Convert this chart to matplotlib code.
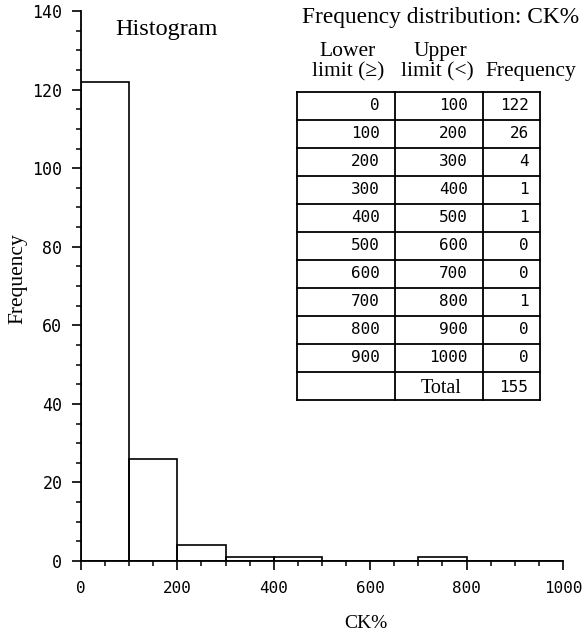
import matplotlib
matplotlib.use("Agg")
import matplotlib.pyplot as plt
import numpy as np

# class limits and counts for CK%
lower = [0, 100, 200, 300, 400, 500, 600, 700, 800, 900]
upper = [100, 200, 300, 400, 500, 600, 700, 800, 900, 1000]
freq = [122, 26, 4, 1, 1, 0, 0, 1, 0, 0]
total = sum(freq)

W, H = 582, 636
serif = "Liberation Serif"
mono = "DejaVu Sans Mono"

def fx(px):
    return px / W

def fy(py):
    return 1 - py / H

fig = plt.figure(figsize=(W / 100, H / 100), dpi=100)
ax = fig.add_axes([fx(81), fy(561), fx(563) - fx(81), fy(11) - fy(561)])

# histogram bars (outline only)
ax.bar(lower, freq, width=100, align="edge", fill=False, edgecolor="black", linewidth=1.2)

ax.set_xlim(0, 1000)
ax.set_ylim(0, 140)
for s in ["top", "right"]:
    ax.spines[s].set_visible(False)
for s in ["left", "bottom"]:
    ax.spines[s].set_linewidth(1.3)

ax.set_xticks(np.arange(0, 1001, 200))
ax.set_xticks(np.arange(0, 1001, 50), minor=True)
ax.set_yticks(np.arange(0, 141, 20))
ax.set_yticks(np.arange(0, 141, 5), minor=True)
ax.tick_params(which="major", length=6.5, width=1.2, direction="out", labelsize=12)
ax.tick_params(which="minor", length=3.8, width=1.1, direction="out")
ax.tick_params(axis="y", which="major", pad=7)
ax.tick_params(axis="x", which="major", pad=8, labelsize=11.5)
for lab in ax.get_xticklabels() + ax.get_yticklabels():
    lab.set_fontfamily(mono)

fig.text(fx(18), fy(279), "Frequency", rotation=90, ha="center", va="center",
         fontfamily=serif, fontsize=15.5)
fig.text(fx(366), fy(624), "CK%", ha="center", va="center", fontfamily=serif, fontsize=14)
fig.text(fx(115), fy(35), "Histogram", ha="left", va="baseline", fontfamily=serif, fontsize=17.5)

# frequency table with its headings
fig.text(fx(302), fy(23), "Frequency distribution: CK%", ha="left", va="baseline",
         fontfamily=serif, fontsize=16.8)
fig.text(fx(348), fy(56), "Lower", ha="center", va="baseline", fontfamily=serif, fontsize=15.5)
fig.text(fx(348), fy(76), "limit (\u2265)", ha="center", va="baseline", fontfamily=serif, fontsize=15.5)
fig.text(fx(440), fy(56), "Upper", ha="center", va="baseline", fontfamily=serif, fontsize=15.5)
fig.text(fx(437), fy(76), "limit (<)", ha="center", va="baseline", fontfamily=serif, fontsize=15.5)
fig.text(fx(485), fy(76), "Frequency", ha="left", va="baseline", fontfamily=serif, fontsize=15.5)

tw, th = 243, 308
tax = fig.add_axes([fx(297), fy(92 + th), fx(297 + tw) - fx(297), fy(92) - fy(92 + th)])
tax.set_xlim(0, tw)
tax.set_ylim(th, 0)
tax.axis("off")

col_edges = [0, 98, 186, 243]
nrows = len(freq) + 1
rh = th / nrows
for i in range(nrows + 1):
    tax.plot([0, tw], [i * rh, i * rh], color="black", lw=1.3, clip_on=False)
for x in col_edges:
    tax.plot([x, x], [0, th], color="black", lw=1.3, clip_on=False)

for i in range(len(freq)):
    yc = (i + 0.5) * rh
    tax.text(col_edges[1] - 15, yc, str(lower[i]), ha="right", va="center",
             fontfamily=mono, fontsize=11.5)
    tax.text(col_edges[2] - 15, yc, str(upper[i]), ha="right", va="center",
             fontfamily=mono, fontsize=11.5)
    tax.text(col_edges[3] - 11, yc, str(freq[i]), ha="right", va="center",
             fontfamily=mono, fontsize=11.5)
ylast = (nrows - 1) * rh
tax.text(col_edges[2] - 21, ylast + 21, "Total", ha="right", va="baseline",
         fontfamily=serif, fontsize=14.5)
tax.text(col_edges[3] - 12, ylast + 0.55 * rh, str(total), ha="right", va="center",
         fontfamily=mono, fontsize=11.5)

fig.savefig("out.png", dpi=100, facecolor="white")
